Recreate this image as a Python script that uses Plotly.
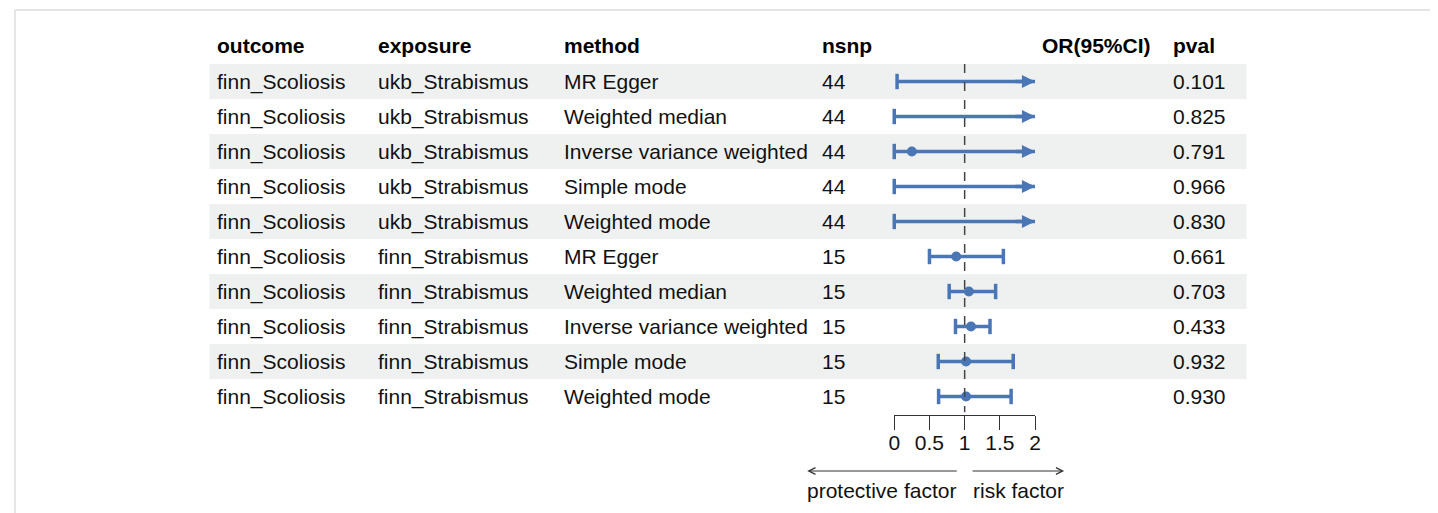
import plotly.graph_objects as go

# ---------------- data ----------------
outcome = ["finn_Scoliosis"] * 10
exposure = ["ukb_Strabismus"] * 5 + ["finn_Strabismus"] * 5
method = ["MR Egger", "Weighted median", "Inverse variance weighted", "Simple mode", "Weighted mode",
          "MR Egger", "Weighted median", "Inverse variance weighted", "Simple mode", "Weighted mode"]
nsnp = [44, 44, 44, 44, 44, 15, 15, 15, 15, 15]
or_est = [1.2e7, 4.5, 0.25, 2.3, 3.1, 0.88, 1.06, 1.09, 1.02, 1.02]
or_lo = [0.04, 7.5e-6, 8.8e-6, 6e-17, 1e-4, 0.50, 0.78, 0.87, 0.625, 0.63]
or_hi = [3.6e15, 2.9e6, 7.0e3, 9e16, 9e4, 1.55, 1.44, 1.36, 1.69, 1.66]
pval = ["0.101", "0.825", "0.791", "0.966", "0.830", "0.661", "0.703", "0.433", "0.932", "0.930"]
headers = ["outcome", "exposure", "method", "nsnp", "OR(95%CI)", "pval"]
xlim = [0, 2]
tick_vals = [0, 0.5, 1, 1.5, 2]
tick_text = ["0", "0.5", "1", "1.5", "2"]
left_label = "protective factor"
right_label = "risk factor"

# ---------------- style / layout ----------------
OFF = 8  # page body margin
W, H = 1438 - OFF, 513 - OFF
BLUE = "#4A76B6"
FONT = "Liberation Sans, Arial, sans-serif"
FS = 21
ROW0_PX, ROW_H = 81.5 - OFF, 35.0
X0_PX, X2_PX = 895.7, 1037.7


def px(x):
    return (x - OFF) / W


def py(y):
    return 1 - (y - OFF) / H


n = len(method)
rows = list(range(1, n + 1))

fig = go.Figure()

# CI lines (clipped to the axis window)
lx, ly = [], []
for r, lo, hi in zip(rows, or_lo, or_hi):
    lx += [max(lo, xlim[0]), min(hi, xlim[1]), None]
    ly += [r, r, None]
fig.add_trace(go.Scatter(x=lx, y=ly, mode="lines", line=dict(color=BLUE, width=3.5),
                         hoverinfo="skip", showlegend=False, cliponaxis=False))

# caps
cx, cy = [], []
for r, lo, hi in zip(rows, or_lo, or_hi):
    if lo >= xlim[0]:
        cx.append(lo); cy.append(r)
    if hi <= xlim[1]:
        cx.append(hi); cy.append(r)
fig.add_trace(go.Scatter(x=cx, y=cy, mode="markers",
                         marker=dict(symbol="line-ns", size=11, line=dict(color=BLUE, width=3.5)),
                         hoverinfo="skip", showlegend=False, cliponaxis=False))

# point estimates inside window
ex = [e for e in or_est if xlim[0] <= e <= xlim[1]]
ey = [r for r, e in zip(rows, or_est) if xlim[0] <= e <= xlim[1]]
fig.add_trace(go.Scatter(x=ex, y=ey, mode="markers", marker=dict(color=BLUE, size=10),
                         showlegend=False, cliponaxis=False))

annotations = []
shapes = []

# arrow heads for CIs beyond window
for r, hi in zip(rows, or_hi):
    if hi > xlim[1]:
        annotations.append(dict(x=xlim[1], y=r, xref="x", yref="y", ax=xlim[1] - 0.3, ay=r,
                                axref="x", ayref="y", text="", showarrow=True,
                                arrowhead=2, arrowsize=0.75, arrowwidth=3.5, arrowcolor=BLUE))

# row shading
for r in rows:
    if r % 2 == 1:
        shapes.append(dict(type="rect", xref="paper", yref="y", x0=px(205), x1=px(1251),
                           y0=r - 0.5, y1=r + 0.5, fillcolor="#EFF1F0", line=dict(width=0),
                           layer="below"))

# reference dashed line at 1
shapes.append(dict(type="line", xref="x", yref="y", x0=1, x1=1, y0=0.5, y1=10.45,
                   line=dict(color="#444444", width=1.5, dash="dash")))

# frame lines
shapes.append(dict(type="line", xref="paper", yref="paper", x0=px(9), x1=1, y0=py(10), y1=py(10),
                   line=dict(color="#DDDDDD", width=1.5)))
shapes.append(dict(type="line", xref="paper", yref="paper", x0=px(9), x1=px(9), y0=0, y1=py(10),
                   line=dict(color="#DDDDDD", width=1.5)))

# text columns
col_left = [213, 375, 563, 823]
head_y = -0.04


def txt(x, y, t, anchor, yref="y", bold=False, color="#111"):
    return dict(x=x, y=y, xref="paper", yref=yref, text=("<b>%s</b>" % t) if bold else t,
                showarrow=False, xanchor=anchor, yanchor="middle", borderpad=0, borderwidth=0,
                font=dict(size=FS, family=FONT, color=color))


for cxp, h in zip(col_left, headers[:4]):
    annotations.append(txt(px(cxp), head_y, h, "left", bold=True, color="#000"))
annotations.append(txt(px(1155), head_y, headers[4], "right", bold=True, color="#000"))
annotations.append(txt(px(1177), head_y, headers[5], "left", bold=True, color="#000"))

for r, o, e, m, s, p in zip(rows, outcome, exposure, method, nsnp, pval):
    for cxp, t in zip(col_left + [1177], [o, e, m, str(s), p]):
        annotations.append(txt(px(cxp), r, t, "left"))

# direction arrows and labels
annotations.append(dict(x=px(808), y=py(471), xref="paper", yref="paper", ax=151, ay=0, text="",
                        showarrow=True, arrowhead=5, arrowsize=1.2, arrowwidth=1.1, arrowcolor="#333"))
annotations.append(dict(x=px(1067), y=py(471), xref="paper", yref="paper", ax=-93, ay=0, text="",
                        showarrow=True, arrowhead=5, arrowsize=1.2, arrowwidth=1.1, arrowcolor="#333"))
annotations.append(txt(px(958), py(490), left_label, "right", yref="paper"))
annotations.append(txt(px(975), py(490), right_label, "left", yref="paper"))

y_top = 1 - ROW0_PX / ROW_H
y_bot = 1 + (H - ROW0_PX) / ROW_H

fig.update_layout(
    width=W, height=H,
    margin=dict(l=0, r=0, t=0, b=0),
    paper_bgcolor="white", plot_bgcolor="rgba(0,0,0,0)",
    font=dict(family=FONT, size=FS, color="#111"),
    xaxis=dict(domain=[px(X0_PX), px(X2_PX)], range=xlim, anchor="free", position=py(415),
               showline=True, linecolor="#333", linewidth=1, ticks="outside", ticklen=14,
               tickcolor="#333", tickwidth=1, tickvals=tick_vals, ticktext=tick_text,
               ticklabelstandoff=-5,
               showgrid=False, zeroline=False, tickfont=dict(size=FS, family=FONT, color="#111")),
    yaxis=dict(domain=[0, 1], range=[y_bot, y_top], visible=False, showgrid=False, zeroline=False),
    shapes=shapes, annotations=annotations,
)

fig.write_html("out.html")
